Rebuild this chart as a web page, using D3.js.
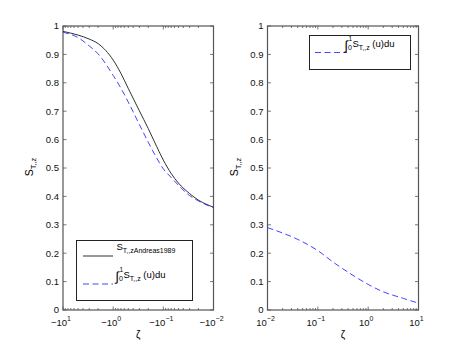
<!DOCTYPE html>
<html>
<head>
<meta charset="utf-8">
<script src="https://cdn.jsdelivr.net/npm/d3@7"></script>
<style>
  body { margin: 0; background: #fff; }
  svg { font-family: 'Liberation Sans', Arial, Helvetica, sans-serif; }
</style>
</head>
<body>
<svg id="chart" width="463" height="348"></svg>
<script>
// left panel: negative zeta, stored as values of zeta
const zetaLeft = [-10, -5, -3, -2, -1, -0.7, -0.5, -0.3, -0.2, -0.15, -0.1, -0.07, -0.05, -0.03, -0.02, -0.01];
const andreas1989 = [0.981, 0.968, 0.954, 0.938, 0.880, 0.833, 0.780, 0.701, 0.639, 0.592, 0.528, 0.481, 0.447, 0.410, 0.387, 0.362];
const integralLeft = [0.978, 0.959, 0.930, 0.902, 0.826, 0.781, 0.732, 0.653, 0.591, 0.549, 0.497, 0.467, 0.439, 0.403, 0.384, 0.360];

// right panel: positive zeta
const zetaRight = [0.01, 0.02, 0.05, 0.1, 0.2, 0.5, 1, 2, 5, 10];
const integralRight = [0.290, 0.271, 0.240, 0.209, 0.169, 0.122, 0.090, 0.064, 0.041, 0.024];

const yTicks = [0, 0.1, 0.2, 0.3, 0.4, 0.5, 0.6, 0.7, 0.8, 0.9, 1];
const leftMajors = [-10, -1, -0.1, -0.01];
const rightMajors = [0.01, 0.1, 1, 10];

const svg = d3.select('#chart');
const plotTop = 26, plotBottom = 310;
const blue = '#2f2fff';
const axisCol = '#555';

let y = d3.scaleLinear().domain([0, 1]).range([plotBottom, plotTop]);

// minor ticks 2..9 for every decade between 0.01 and 10
function minorTicks(){
  let out = [];
  for (let e = -2; e < 1; e++){
    for (let m = 2; m <= 9; m++) out.push(m * Math.pow(10, e));
  }
  return out;
}

function drawPanel(x0, x1, xScale, majors, sign, expOf){
  let g = svg.append('g');

  // box
  g.append('rect')
    .attr('x', x0).attr('y', plotTop)
    .attr('width', x1 - x0).attr('height', plotBottom - plotTop)
    .attr('fill', 'none')
    .attr('stroke', axisCol)
    .attr('stroke-width', 1.2);

  let xs = d => xScale(sign * d);  // minor positions from magnitudes

  // ticks, all inward like matlab
  let tickG = g.append('g').attr('stroke', axisCol).attr('stroke-width', 0.8);
  majors.forEach(v => {
    let px = xScale(v);
    tickG.append('line').attr('x1', px).attr('x2', px).attr('y1', plotBottom).attr('y2', plotBottom - 3.5);
    tickG.append('line').attr('x1', px).attr('x2', px).attr('y1', plotTop).attr('y2', plotTop + 3.5);
  });
  minorTicks().forEach(v => {
    let px = xs(v);
    tickG.append('line').attr('x1', px).attr('x2', px).attr('y1', plotBottom).attr('y2', plotBottom - 2);
    tickG.append('line').attr('x1', px).attr('x2', px).attr('y1', plotTop).attr('y2', plotTop + 2);
  });
  yTicks.forEach(v => {
    let py = y(v);
    tickG.append('line').attr('x1', x0).attr('x2', x0 + 3.5).attr('y1', py).attr('y2', py);
    tickG.append('line').attr('x1', x1).attr('x2', x1 - 3.5).attr('y1', py).attr('y2', py);
  });

  // y tick labels
  g.selectAll('.ylab')
    .data(yTicks)
    .enter().append('text')
      .attr('class', 'ylab')
      .attr('x', x0 - 4)
      .attr('y', d => y(d) + 3.3)
      .attr('text-anchor', 'end')
      .attr('font-size', 9.5)
      .attr('fill', '#111')
      .text(d => String(+d.toFixed(1)));

  // x tick labels with exponent
  majors.forEach(v => {
    let t = g.append('text')
      .attr('x', xScale(v) - 2)
      .attr('y', 325.5)
      .attr('text-anchor', 'middle')
      .attr('font-size', 9.5)
      .attr('fill', '#111');
    t.append('tspan').text(sign < 0 ? '\u221210' : '10');
    t.append('tspan')
      .attr('dy', -5)
      .attr('font-size', 7)
      .text(expOf(v));
  });

  // x label
  g.append('text')
    .attr('x', (x0 + x1) / 2)
    .attr('y', 338)
    .attr('text-anchor', 'middle')
    .attr('font-size', 10)
    .text('\u03b6');

  // y label
  let yl = g.append('text')
    .attr('transform', `translate(${x0 - 30},167) rotate(-90)`)
    .attr('text-anchor', 'middle')
    .attr('font-size', 10.5);
  yl.append('tspan').text('S');
  yl.append('tspan').attr('dy', 3).attr('font-size', 7.5).text('T,,z');

  return g;
}

function expLabel(v){
  let e = Math.round(Math.log10(Math.abs(v)));
  return e < 0 ? '\u2212' + (-e) : String(e);
}

// left panel
let xL = d3.scaleLog().domain([10, 0.01]).range([63, 213.5]);
let xLeft = d => xL(-d);
drawPanel(63, 213.5, xLeft, leftMajors, -1, expLabel);

let leftData = zetaLeft.map((z, i) => ({z: z, a: andreas1989[i], b: integralLeft[i]}));

svg.append('path')
  .datum(leftData)
  .attr('fill', 'none')
  .attr('stroke', '#1a1a1a')
  .attr('stroke-width', 0.9)
  .attr('d', d3.line().curve(d3.curveMonotoneX).x(d => xLeft(d.z)).y(d => y(d.a)));

svg.append('path')
  .datum(leftData)
  .attr('fill', 'none')
  .attr('stroke', blue)
  .attr('stroke-width', 0.9)
  .attr('stroke-dasharray', '6,3.5')
  .attr('d', d3.line().curve(d3.curveMonotoneX).x(d => xLeft(d.z)).y(d => y(d.b)));

// right panel
let xR = d3.scaleLog().domain([0.01, 10]).range([267.5, 418.5]);
drawPanel(267.5, 418.5, xR, rightMajors, 1, expLabel);

svg.append('path')
  .datum(zetaRight.map((z, i) => ({z: z, v: integralRight[i]})))
  .attr('fill', 'none')
  .attr('stroke', blue)
  .attr('stroke-width', 0.9)
  .attr('stroke-dasharray', '6,3.5')
  .attr('d', d3.line().curve(d3.curveMonotoneX).x(d => xR(d.z)).y(d => y(d.v)));

// integral legend label: ∫_0^1 S_T,,z (u)du
function integralText(g, x, yb){
  g.append('text').attr('x', x).attr('y', yb + 3).attr('font-size', 13).text('\u222b');
  g.append('text').attr('x', x + 4).attr('y', yb - 6).attr('font-size', 6.5).text('1');
  g.append('text').attr('x', x + 3.5).attr('y', yb + 3).attr('font-size', 7).text('0');
  let t = g.append('text').attr('x', x + 8).attr('y', yb).attr('font-size', 9.5);
  t.append('tspan').text('S');
  t.append('tspan').attr('dy', 3).attr('font-size', 7).text('T,,z');
  t.append('tspan').attr('dy', -3).text(' (u)du');
}

function legendBox(x, yTop, w, h){
  let g = svg.append('g');
  g.append('rect')
    .attr('x', x).attr('y', yTop)
    .attr('width', w).attr('height', h)
    .attr('fill', '#fff')
    .attr('stroke', '#222')
    .attr('stroke-width', 1);
  return g;
}

// left legend
let lg = legendBox(76.5, 240.5, 116, 60);
lg.append('line')
  .attr('x1', 83).attr('x2', 113).attr('y1', 256).attr('y2', 256)
  .attr('stroke', '#1a1a1a').attr('stroke-width', 0.9);
let lt = lg.append('text').attr('x', 116.5).attr('y', 250).attr('font-size', 9.5);
lt.append('tspan').text('S');
lt.append('tspan').attr('dy', 3).attr('font-size', 7).text('T,,zAndreas1989');
lg.append('line')
  .attr('x1', 83).attr('x2', 113).attr('y1', 284).attr('y2', 284)
  .attr('stroke', blue).attr('stroke-width', 0.9)
  .attr('stroke-dasharray', '6,3.5');
integralText(lg, 115.5, 278);

// right legend
let rg = legendBox(309.5, 35.5, 101, 34);
rg.append('line')
  .attr('x1', 315).attr('x2', 347).attr('y1', 52.5).attr('y2', 52.5)
  .attr('stroke', blue).attr('stroke-width', 0.9)
  .attr('stroke-dasharray', '6,3.5');
integralText(rg, 344.5, 47);
</script>
</body>
</html>
